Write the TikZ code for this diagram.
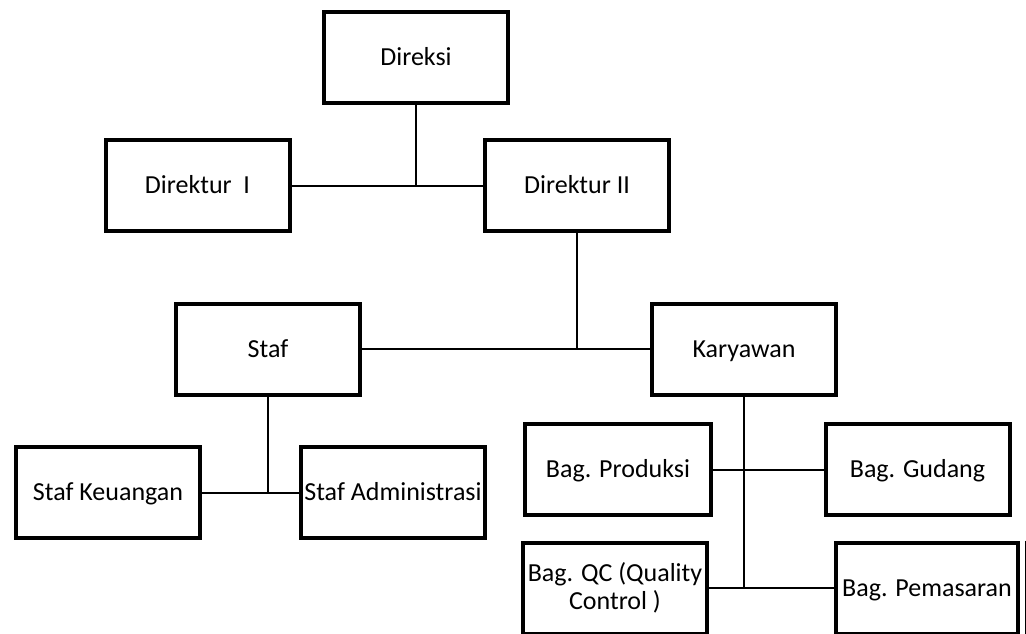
\documentclass[tikz,border=0pt]{standalone}
\usepackage{fontspec}
\setmainfont{Carlito}

\begin{document}
\begin{tikzpicture}[x=0.5pt, y=-0.5pt,
  box/.style={draw, line width=2pt, inner sep=0pt, align=center,
    minimum width=92pt, minimum height=45.5pt,
    text height=8.4pt, text depth=0pt,
    font=\fontsize{13}{14}\selectfont},
  link/.style={line width=1pt}]
  % page frame
  \useasboundingbox (0,0) rectangle (1026,633);
  \clip (0,0) rectangle (1026,633);

  % top level
  \node[box] (direksi) at (416,57.5) {Direksi};
  \node[box] (dirI) at (197.5,185.5) {Direktur~ I};
  \node[box] (dirII) at (577,185.5) {Direktur II};

  % second level
  \node[box] (staf) at (268,349) {Staf};
  \node[box] (karyawan) at (744,349) {Karyawan};

  % staf units
  \node[box] (keuangan) at (108,492.5) {Staf Keuangan};
  \node[box] (admin) at (393,492.5) {Staf Administrasi};

  % bagian
  \node[box, minimum width=93pt] (produksi) at (618,469.5) {Bag. Produksi};
  \node[box] (gudang) at (917.5,469.5) {Bag. Gudang};
  \node[box, text height=, text depth=] (qc) at (615,588) {Bag. QC (Quality\\ Control )};
  \node[box, minimum width=91pt] (pemasaran) at (927,588) {Bag. Pemasaran};
  \coordinate (pemEdge) at ([xshift=2.5pt]pemasaran.north east);
  \draw[line width=0.5pt] (pemEdge) -- ++(0,100);

  % lines
  \draw[link] (dirI.east) -- (dirII.west);
  \draw[link] (direksi.south) -- (direksi.south |- dirI.east);
  \draw[link] (staf.east) -- (karyawan.west);
  \draw[link] (dirII.south) -- (dirII.south |- staf.east);
  \draw[link] (keuangan.east) -- (admin.west);
  \draw[link] (staf.south) -- (staf.south |- keuangan.east);
  \draw[link] (produksi.east) -- (gudang.west);
  \draw[link] (qc.east) -- (pemasaran.west);
  \draw[link] (karyawan.south) -- (karyawan.south |- qc.east);
\end{tikzpicture}
\end{document}
